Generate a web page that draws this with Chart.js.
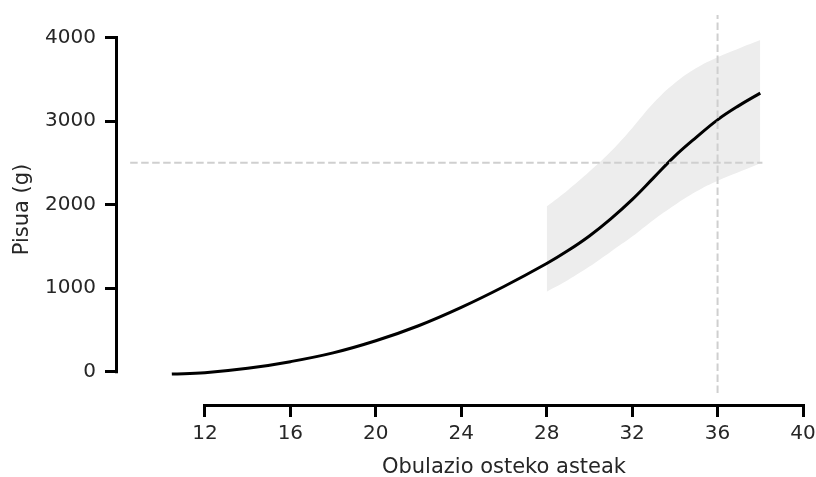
<!DOCTYPE html>
<html>
<head>
<meta charset="utf-8">
<script src="https://cdn.jsdelivr.net/npm/chart.js@4.4.1/dist/chart.umd.min.js"></script>
<style>
  html, body { margin: 0; padding: 0; background: #fff; }
  #wrap { width: 816px; height: 477px; }
</style>
</head>
<body>
<div id="wrap"><canvas id="growthChart" width="816" height="477"></canvas></div>
<script>
/* ── Data ── */
const meanWeeks  = [10.45, 12, 14, 16, 18, 20, 22, 24, 26, 28, 29, 30, 31, 32, 33, 34, 35, 36, 37, 38];
const meanWeight = [-28, -12, 40, 120, 225, 370, 550, 770, 1020, 1295, 1450, 1625, 1830, 2060, 2320, 2580, 2805, 3015, 3185, 3335];

const bandWeeks = [28, 29, 30, 31, 32, 33, 34, 35, 36, 37, 38];
const bandUpper = [1976, 2175, 2395, 2635, 2915, 3215, 3455, 3635, 3765, 3870, 3970];
const bandLower = [958, 1098, 1258, 1437, 1617, 1817, 1996, 2156, 2285, 2390, 2496];

const refWeek     = 36;
const refWeight   = 2500;
const hLineWeeks  = [8.5, 38.1];
const vLineWeight = [-255, 4270];

const xTicks = [12, 16, 20, 24, 28, 32, 36, 40];
const yTicks = [0, 1000, 2000, 3000, 4000];

const xTitle = 'Obulazio osteko asteak';
const yTitle = 'Pisua (g)';

const pts = (xs, ys) => xs.map((x, i) => ({ x, y: ys[i] }));

const FONT = 'DejaVu Sans';
const TEXT = '#262626';

/* ── trimmed spines + x title ── */
const spines = {
  id: 'spines',
  afterDraw(chart) {
    const { ctx, scales: { x, y }, chartArea } = chart;
    ctx.save();
    ctx.strokeStyle = '#000';
    ctx.lineWidth = 3;
    ctx.lineCap = 'square';
    ctx.beginPath();
    ctx.moveTo(chartArea.left - 1.5, y.getPixelForValue(yTicks[0]));
    ctx.lineTo(chartArea.left - 1.5, y.getPixelForValue(yTicks[yTicks.length - 1]));
    ctx.moveTo(x.getPixelForValue(xTicks[0]), chartArea.bottom + 1.5);
    ctx.lineTo(x.getPixelForValue(xTicks[xTicks.length - 1]), chartArea.bottom + 1.5);
    ctx.stroke();

    ctx.fillStyle = TEXT;
    ctx.font = '21px "' + FONT + '"';
    ctx.textAlign = 'center';
    ctx.textBaseline = 'middle';
    const cx = (x.getPixelForValue(xTicks[0]) + x.getPixelForValue(xTicks[xTicks.length - 1])) / 2;
    ctx.fillText(xTitle, cx, 468);
    ctx.restore();
  }
};

const noPad = s => { s.paddingTop = 0; s.paddingBottom = 0; s.paddingLeft = 0; s.paddingRight = 0; };

const ctx = document.getElementById('growthChart').getContext('2d');

new Chart(ctx, {
  type: 'line',
  data: {
    datasets: [
      {
        data: pts(hLineWeeks, [refWeight, refWeight]),
        borderColor: '#cfcfcf', borderWidth: 2, borderDash: [7.5, 3.5],
        pointRadius: 0, fill: false,
      },
      {
        data: pts([refWeek, refWeek], vLineWeight),
        borderColor: '#cfcfcf', borderWidth: 2, borderDash: [7.5, 3.5],
        pointRadius: 0, fill: false,
      },
      {
        data: pts(meanWeeks, meanWeight),
        borderColor: '#000', borderWidth: 3,
        pointRadius: 0, tension: 0.4, fill: false,
      },
      {
        data: pts(bandWeeks, bandUpper),
        borderWidth: 0, borderColor: 'rgba(0,0,0,0)',
        backgroundColor: '#ededed',
        pointRadius: 0, tension: 0.4, fill: '+1',
      },
      {
        data: pts(bandWeeks, bandLower),
        borderWidth: 0, borderColor: 'rgba(0,0,0,0)',
        pointRadius: 0, tension: 0.4, fill: false,
      },
    ]
  },
  options: {
    responsive: false,
    animation: false,
    layout: { padding: { left: 0, top: 15, right: 13, bottom: 0 } },
    plugins: {
      legend: { display: false },
      tooltip: { enabled: false },
    },
    scales: {
      x: {
        type: 'linear',
        min: 7.93, max: 40,
        afterBuildTicks: s => { s.ticks = xTicks.map(v => ({ value: v })); },
        afterFit: s => { s.height = 73; noPad(s); },
        border: { display: false },
        grid: { drawOnChartArea: false, drawTicks: true, tickLength: 13, tickWidth: 3, tickColor: '#000' },
        ticks: { color: TEXT, font: { family: FONT, size: 20 }, padding: 5, maxRotation: 0, callback: v => String(v) },
      },
      y: {
        type: 'linear',
        min: -387, max: 4270,
        afterBuildTicks: s => { s.ticks = yTicks.map(v => ({ value: v })); },
        afterFit: s => { s.width = 118; noPad(s); },
        border: { display: false },
        grid: { drawOnChartArea: false, drawTicks: true, tickLength: 13, tickWidth: 3, tickColor: '#000' },
        ticks: { color: TEXT, font: { family: FONT, size: 20 }, padding: 9, callback: v => String(v) },
        title: { display: true, text: yTitle, color: TEXT, font: { family: FONT, size: 21 }, padding: { top: 10, bottom: 0 } },
      }
    }
  },
  plugins: [spines]
});
</script>
</body>
</html>
